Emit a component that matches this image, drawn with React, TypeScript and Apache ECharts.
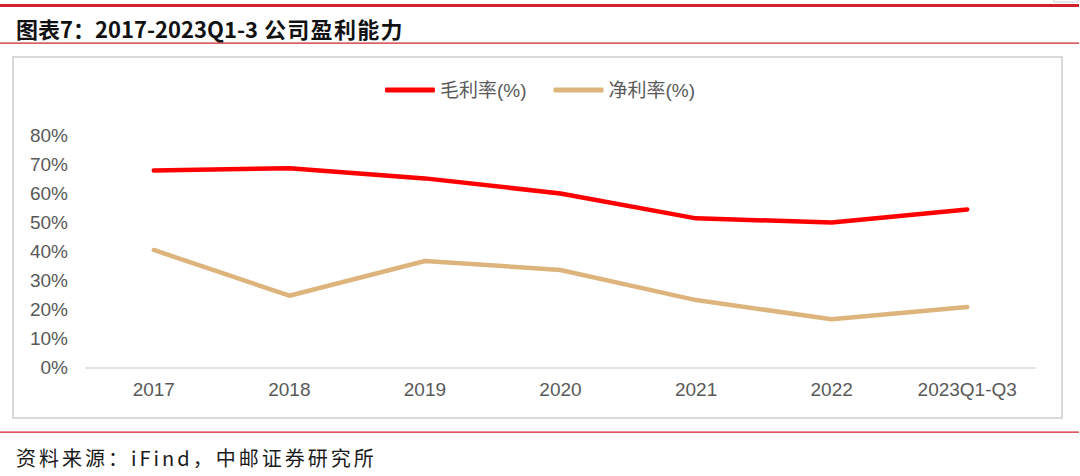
import React, { useEffect, useRef } from "react";
import * as echarts from "echarts";

const categories = ["2017", "2018", "2019", "2020", "2021", "2022", "2023Q1-Q3"];
const grossMargin = [67.9, 68.7, 65.2, 60.0, 51.4, 50.0, 54.5];
const netMargin = [40.5, 24.7, 36.7, 33.6, 23.2, 16.6, 20.8];
const seriesNames = ["毛利率(%)", "净利率(%)"];
const titleMain = "图表7：2017-2023Q1-3";
const titleTail = "公司盈利能力";
const sourceText = "资料来源：iFind，中邮证券研究所";

const RED = "#FF0000";
const TAN = "#DDB57C";
const BRAND = "#D3202A";
const LABEL = "#595959";

function charTexts(str: string, x0: number, y: number, spacing: number, font: any) {
  const out: any[] = [];
  const ctx = document.createElement("canvas").getContext("2d");
  let x = x0;
  for (const ch of Array.from(str)) {
    out.push({
      type: "text",
      z: 10,
      style: {
        text: ch,
        x,
        y,
        textAlign: "left",
        textVerticalAlign: "middle",
        ...font,
      },
    });
    let w = font.fontSize;
    if (ctx) {
      ctx.font = `${font.fontWeight || "normal"} ${font.fontSize}px "${font.fontFamily}"`;
      w = ctx.measureText(ch).width;
    }
    if (ch.charCodeAt(0) >= 0x2e80) w = Math.max(w, font.fontSize);
    x += w + spacing;
  }
  return out;
}

export default function App() {
  const ref = useRef<HTMLDivElement>(null);
  useEffect(() => {
    if (!ref.current) return;
    const chart = echarts.init(ref.current, undefined, { renderer: "svg" });
    const graphic: any[] = [
      { type: "rect", z: 1, shape: { x: 0, y: 4, width: 1079, height: 3 }, style: { fill: BRAND } },
      { type: "rect", z: 1, shape: { x: 1054, y: -10, width: 24, height: 12 }, style: { fill: "none", stroke: "#cfcfcf", lineWidth: 1 } },
      { type: "rect", z: 1, shape: { x: 0, y: 42.5, width: 1079, height: 1.3 }, style: { fill: BRAND } },
      { type: "rect", z: 1, shape: { x: 13, y: 57, width: 1049, height: 361 }, style: { fill: "none", stroke: "#D9D9D9", lineWidth: 2 } },
      { type: "rect", z: 1, shape: { x: 0, y: 431.5, width: 1079, height: 1.3 }, style: { fill: BRAND } },
      {
        type: "text",
        z: 10,
        style: {
          text: titleMain,
          x: 16,
          y: 28,
          textAlign: "left",
          textVerticalAlign: "middle",
          fontSize: 22,
          fontWeight: "bold",
          fontFamily: "Noto Sans CJK SC",
          fill: "#111",
        },
      },
      ...charTexts(titleTail, 264, 28, 1.3, {
        fontSize: 22,
        fontWeight: "bold",
        fontFamily: "Noto Sans CJK SC",
        fill: "#111",
      }),
      ...charTexts(sourceText, 16, 457, 3, {
        fontSize: 20,
        fontFamily: "Noto Sans CJK SC",
        fill: "#1a1a1a",
      }),
    ];
    chart.setOption({
      animation: false,
      graphic,
      legend: {
        left: "center",
        top: 75,
        icon: "roundRect",
        itemWidth: 50,
        itemHeight: 5,
        itemGap: 27,
        textStyle: { fontSize: 19, color: LABEL, fontFamily: "Liberation Sans, Noto Sans CJK SC", lineHeight: 20 },
        data: seriesNames,
      },
      grid: { left: 86, right: 45, top: 135.5, bottom: 108.7, containLabel: false },
      xAxis: {
        type: "category",
        data: categories,
        boundaryGap: true,
        axisLine: { lineStyle: { color: "#D9D9D9", width: 1.5 } },
        axisTick: { show: false },
        axisLabel: { fontSize: 19, color: LABEL, margin: 13, fontFamily: "Liberation Sans" },
      },
      yAxis: {
        type: "value",
        min: 0,
        max: 80,
        interval: 10,
        axisLine: { show: false },
        axisTick: { show: false },
        splitLine: { show: false },
        axisLabel: { fontSize: 19, color: LABEL, margin: 18, formatter: "{value}%", fontFamily: "Liberation Sans" },
      },
      series: [
        {
          name: seriesNames[0],
          type: "line",
          data: grossMargin,
          symbol: "none",
          itemStyle: { color: RED },
          lineStyle: { color: RED, width: 4.5, cap: "round", join: "round" },
        },
        {
          name: seriesNames[1],
          type: "line",
          data: netMargin,
          symbol: "none",
          itemStyle: { color: TAN },
          lineStyle: { color: TAN, width: 4.5, cap: "round", join: "round" },
        },
      ],
    });
    return () => chart.dispose();
  }, []);
  return (
    <div
      ref={ref}
      style={{ position: "absolute", left: 0, top: 0, width: 1080, height: 476, background: "#fff" }}
    />
  );
}
